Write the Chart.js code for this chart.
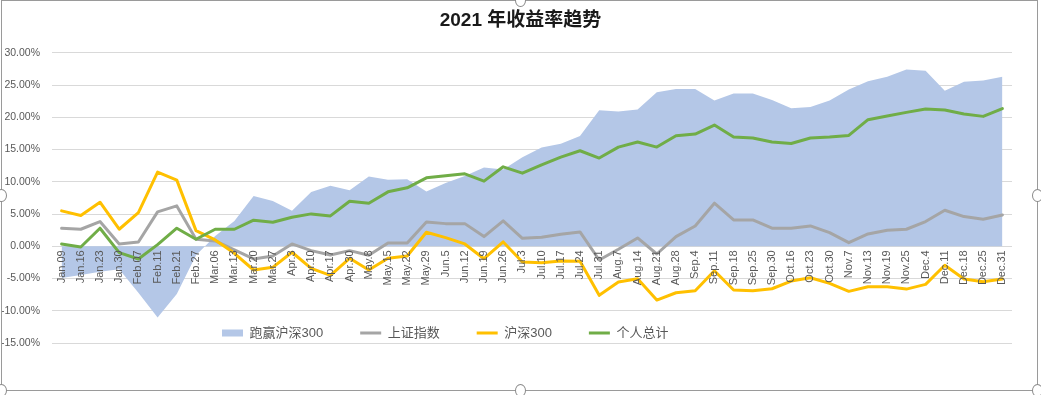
<!DOCTYPE html>
<html><head><meta charset="utf-8">
<style>
html,body{margin:0;padding:0;background:#fff;overflow:hidden;}
#wrap{position:relative;width:1041px;height:395px;}
canvas{position:absolute;left:0;top:0;}
#frame{position:absolute;left:1px;top:0;width:1035px;height:389px;border:1px solid #9a9a9a;pointer-events:none;}
.h{position:absolute;width:9px;height:11px;border:1px solid #8a8a8a;border-radius:50%;background:#fff;pointer-events:none;}
</style>
<script src="https://cdn.jsdelivr.net/npm/chart.js@4/dist/chart.umd.min.js"></script>
</head><body>
<div id="wrap">
<canvas id="c" width="1041" height="395"></canvas>
<div id="frame"></div>
<div class="h" style="left:-4px;top:189px"></div>
<div class="h" style="left:1032px;top:189px"></div>
<div class="h" style="left:515px;top:-6px"></div>
<div class="h" style="left:515px;top:384px"></div>
<div class="h" style="left:-4px;top:384px"></div>
<div class="h" style="left:1032px;top:384px"></div>
</div>
<script>
const categories = ['Jan.09','Jan.16','Jan.23','Jan.30','Feb.07','Feb.11','Feb.21','Feb.27','Mar.06','Mar.13','Mar.20','Mar.27','Apr.3','Apr.10','Apr.17','Apr.30','May.8','May.15','May.22','May.29','Jun.5','Jun.12','Jun.19','Jun.26','Jul.3','Jul.10','Jul.17','Jul.24','Jul.31','Aug.7','Aug.14','Aug.21','Aug.28','Sep.4','Sep.11','Sep.18','Sep.25','Sep.30','Oct.16','Oct.23','Oct.30','Nov.7','Nov.13','Nov.19','Nov.25','Dec.4','Dec.11','Dec.18','Dec.25','Dec.31'];

const seriesNames = ['跑赢沪深300','上证指数','沪深300','个人总计'];

const outperform = [-4.93,-4.46,-3.94,-3.58,-7.2,-11.03,-7.41,-1.4,1.6,3.9,7.8,7.0,5.5,8.4,9.4,8.7,10.8,10.3,10.4,8.5,9.8,10.9,12.2,11.9,13.8,15.3,15.9,17.1,21.1,20.9,21.2,23.9,24.4,24.4,22.6,23.7,23.7,22.7,21.4,21.6,22.6,24.3,25.6,26.3,27.4,27.2,24.1,25.5,25.7,26.3];

const sseIndex = [2.8,2.64,3.83,0.36,0.67,5.33,6.26,1.09,0.82,-0.57,-1.97,-1.51,0.36,-0.68,-1.35,-0.68,-1.4,0.51,0.51,3.78,3.51,3.51,1.5,3.93,1.24,1.4,1.86,2.22,-2.13,-0.47,1.29,-1.2,1.5,3.15,6.68,4.09,4.09,2.8,2.8,3.15,2.11,0.56,1.91,2.49,2.64,3.83,5.59,4.6,4.2,4.86];

const hs300 = [5.49,4.76,6.83,2.64,5.22,11.5,10.26,2.43,0.98,-1.09,-3.68,-3.27,-0.93,-3.42,-4.51,-1.87,-3.68,-1.87,-1.51,2.18,1.34,0.36,-1.93,0.67,-2.44,-2.55,-2.28,-2.33,-7.61,-5.55,-5.03,-8.34,-7.21,-6.9,-3.79,-6.79,-6.9,-6.59,-5.39,-4.88,-5.75,-6.99,-6.28,-6.28,-6.64,-5.91,-2.95,-5.08,-5.5,-5.08];

const personal = [0.36,-0.11,2.8,-0.99,-1.97,0.25,2.8,1.09,2.64,2.64,4.04,3.73,4.51,5.02,4.71,6.99,6.68,8.44,9.06,10.61,10.92,11.24,10.1,12.32,11.34,12.63,13.83,14.81,13.68,15.38,16.16,15.38,17.14,17.4,18.8,16.94,16.78,16.16,15.94,16.78,16.94,17.19,19.63,20.2,20.76,21.29,21.13,20.51,20.14,21.34];

const yMin = -15, yMax = 30, yStep = 5;
const titleText = '2021 年收益率趋势';

const FONT = "'Liberation Sans', Arial, 'Noto Sans CJK SC', sans-serif";

const layoutTweaks = {
  id: 'layoutTweaks',
  afterLayout(chart) {
    const lg = chart.legend;
    if (lg) {
      const P = lg.options.labels.padding;
      const fs = 13;
      const ca = chart.chartArea;
      lg.top = ca.bottom - 10 - fs / 2 - P;
      lg.height = P + fs + P;
      lg.bottom = lg.top + lg.height;
      lg.left = ca.left + 170 - P;
    }
    const tb = chart.titleBlock;
    if (tb) { tb.left = 0; tb.right = chart.width; tb.width = chart.width; }
  }
};

new Chart(document.getElementById('c'), {
  type: 'line',
  data: {
    labels: categories,
    datasets: [
      { label: seriesNames[0], data: outperform, fill: 'origin', backgroundColor: '#b4c7e7',
        borderColor: 'rgba(0,0,0,0)', borderWidth: 0, pointRadius: 0, pointStyle: 'rect', order: 4 },
      { label: seriesNames[1], data: sseIndex, fill: false, borderColor: '#a5a5a5', backgroundColor: '#a5a5a5',
        borderWidth: 3, pointRadius: 0, pointStyle: 'line', order: 3, borderJoinStyle: 'round', borderCapStyle: 'round' },
      { label: seriesNames[2], data: hs300, fill: false, borderColor: '#ffc000', backgroundColor: '#ffc000',
        borderWidth: 3, pointRadius: 0, pointStyle: 'line', order: 2, borderJoinStyle: 'round', borderCapStyle: 'round' },
      { label: seriesNames[3], data: personal, fill: false, borderColor: '#70ad47', backgroundColor: '#70ad47',
        borderWidth: 3, pointRadius: 0, pointStyle: 'line', order: 1, borderJoinStyle: 'round', borderCapStyle: 'round' }
    ]
  },
  options: {
    responsive: false,
    animation: false,
    events: [],
    layout: { padding: { left: 0, right: 29, top: 0, bottom: 22 } },
    plugins: {
      title: { display: true, text: titleText, color: '#1a1a1a',
        font: { size: 19, weight: 'bold', family: FONT }, padding: { top: 9, bottom: 21 } },
      legend: { position: 'bottom', align: 'start', reverse: true, maxHeight: 30,
        labels: { usePointStyle: true, pointStyleWidth: 21, boxHeight: 7, padding: 37,
          color: '#595959', font: { size: 13, family: FONT } } },
      tooltip: { enabled: false }
    },
    scales: {
      x: {
        position: { y: 0 },
        offset: true,
        grid: { display: true, color: 'rgba(0,0,0,0)', drawTicks: false },
        border: { display: false },
        ticks: { z: 1, autoSkip: false, minRotation: 90, maxRotation: 90, padding: 4, color: '#595959',
          font: { size: 11, family: FONT } },
        afterFit(s) { s.height = 0; }
      },
      y: {
        min: yMin, max: yMax,
        grid: { color: '#d9d9d9', drawTicks: false },
        border: { display: false },
        ticks: { stepSize: yStep, padding: 12, color: '#595959', font: { size: 10.5, family: FONT },
          callback: v => v.toFixed(2) + '%' },
        afterFit(s) { s.width = 52; }
      }
    }
  },
  plugins: [layoutTweaks]
});
</script>
</body></html>
